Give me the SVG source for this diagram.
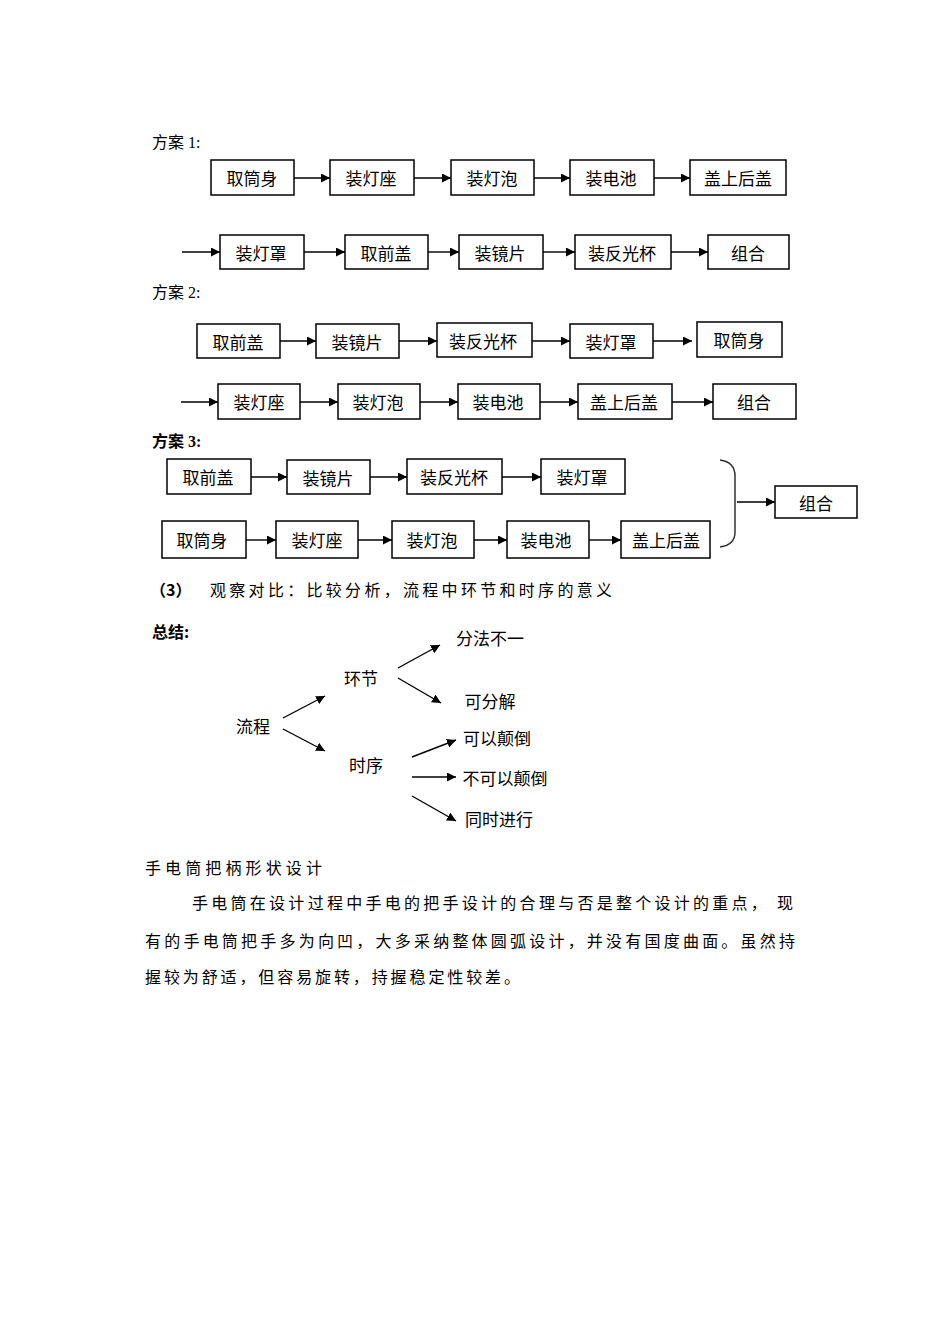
<svg xmlns="http://www.w3.org/2000/svg" width="950" height="1344" viewBox="0 0 950 1344">
<defs>
<marker id="ah" viewBox="0 0 10 10" refX="10" refY="5" markerWidth="9" markerHeight="9" markerUnits="userSpaceOnUse" orient="auto">
<path d="M0,0 L10,5 L0,10 z" fill="#000"/>
</marker>
<style>
.box{fill:#fff;stroke:#000;stroke-width:1.5}
.bt{font-family:"Noto Sans CJK SC","Liberation Sans",sans-serif;font-size:17px;fill:#000;text-anchor:middle;dominant-baseline:central}
.lbl{font-family:"Liberation Serif","Noto Sans CJK SC",serif;font-size:16px;fill:#000;dominant-baseline:central}
.body{font-family:"Noto Sans CJK SC",sans-serif;font-size:16px;fill:#000}
.cn{stroke:#000;stroke-width:1.4;fill:none;marker-end:url(#ah)}
</style>
</defs>
<rect width="950" height="1344" fill="#fff"/>

<text class="lbl" x="152" y="142">方案 1:</text>
<text class="lbl" x="152" y="292">方案 2:</text>
<text class="lbl" x="152" y="441" font-weight="bold">方案 3:</text>

<!-- Scheme 1 -->
<g id="s1r1n1"><rect class="box" x="211" y="160" width="83" height="35"/><text class="bt" x="252" y="177.5">取筒身</text></g>
<g id="s1r1n2"><rect class="box" x="330" y="160" width="84" height="35"/><text class="bt" x="371" y="177.5">装灯座</text></g>
<g id="s1r1n3"><rect class="box" x="451" y="160" width="83" height="35"/><text class="bt" x="492" y="177.5">装灯泡</text></g>
<g id="s1r1n4"><rect class="box" x="570" y="160" width="84" height="35"/><text class="bt" x="611" y="177.5">装电池</text></g>
<g id="s1r1n5"><rect class="box" x="690" y="160" width="96" height="35"/><text class="bt" x="738" y="177.5">盖上后盖</text></g>

<g id="s1r2n1"><rect class="box" x="220" y="235" width="84" height="34"/><text class="bt" x="261" y="252">装灯罩</text></g>
<g id="s1r2n2"><rect class="box" x="345" y="235" width="83" height="34"/><text class="bt" x="386" y="252">取前盖</text></g>
<g id="s1r2n3"><rect class="box" x="459" y="235" width="84" height="34"/><text class="bt" x="500" y="252">装镜片</text></g>
<g id="s1r2n4"><rect class="box" x="575" y="235" width="96" height="34"/><text class="bt" x="622" y="252">装反光杯</text></g>
<g id="s1r2n5"><rect class="box" x="708" y="235" width="81" height="34"/><text class="bt" x="748" y="252">组合</text></g>

<!-- Scheme 2 -->
<g id="s2r1n1"><rect class="box" x="197" y="324" width="83" height="34"/><text class="bt" x="238" y="341">取前盖</text></g>
<g id="s2r1n2"><rect class="box" x="316" y="324" width="83" height="34"/><text class="bt" x="357" y="341">装镜片</text></g>
<g id="s2r1n3"><rect class="box" x="437" y="323" width="95" height="34"/><text class="bt" x="483" y="340">装反光杯</text></g>
<g id="s2r1n4"><rect class="box" x="570" y="324" width="83" height="34"/><text class="bt" x="611" y="341">装灯罩</text></g>
<g id="s2r1n5"><rect class="box" x="697" y="322" width="85" height="35"/><text class="bt" x="739" y="339">取筒身</text></g>

<g id="s2r2n1"><rect class="box" x="218" y="384" width="82" height="35"/><text class="bt" x="259" y="401.5">装灯座</text></g>
<g id="s2r2n2"><rect class="box" x="338" y="384" width="82" height="35"/><text class="bt" x="378" y="401.5">装灯泡</text></g>
<g id="s2r2n3"><rect class="box" x="458" y="384" width="82" height="35"/><text class="bt" x="498" y="401.5">装电池</text></g>
<g id="s2r2n4"><rect class="box" x="578" y="384" width="94" height="35"/><text class="bt" x="624" y="401.5">盖上后盖</text></g>
<g id="s2r2n5"><rect class="box" x="713" y="384" width="83" height="35"/><text class="bt" x="754" y="401.5">组合</text></g>

<!-- Scheme 3 -->
<g id="s3r1n1"><rect class="box" x="167" y="459" width="84" height="35"/><text class="bt" x="208" y="476.5">取前盖</text></g>
<g id="s3r1n2"><rect class="box" x="287" y="460" width="83" height="34"/><text class="bt" x="328" y="477">装镜片</text></g>
<g id="s3r1n3"><rect class="box" x="407" y="459" width="95" height="35"/><text class="bt" x="454" y="476.5">装反光杯</text></g>
<g id="s3r1n4"><rect class="box" x="541" y="459" width="84" height="35"/><text class="bt" x="582" y="476.5">装灯罩</text></g>

<g id="s3r2n1"><rect class="box" x="162" y="521" width="84" height="37"/><text class="bt" x="202" y="539.5">取筒身</text></g>
<g id="s3r2n2"><rect class="box" x="276" y="521" width="82" height="37"/><text class="bt" x="317" y="539.5">装灯座</text></g>
<g id="s3r2n3"><rect class="box" x="392" y="521" width="82" height="37"/><text class="bt" x="432" y="539.5">装灯泡</text></g>
<g id="s3r2n4"><rect class="box" x="507" y="521" width="82" height="37"/><text class="bt" x="546" y="539.5">装电池</text></g>
<g id="s3r2n5"><rect class="box" x="621" y="521" width="89" height="37"/><text class="bt" x="666" y="539.5">盖上后盖</text></g>

<g id="s3join"><rect class="box" x="775" y="486" width="82" height="32"/><text class="bt" x="816" y="502">组合</text></g>

<!-- Connectors -->
<g id="connectors">
<line class="cn" x1="294" y1="178" x2="330" y2="178"/>
<line class="cn" x1="414" y1="178" x2="451" y2="178"/>
<line class="cn" x1="534" y1="178" x2="570" y2="178"/>
<line class="cn" x1="654" y1="178" x2="690" y2="178"/>
<line class="cn" x1="182" y1="252" x2="220" y2="252"/>
<line class="cn" x1="304" y1="252" x2="345" y2="252"/>
<line class="cn" x1="428" y1="252" x2="459" y2="252"/>
<line class="cn" x1="543" y1="252" x2="575" y2="252"/>
<line class="cn" x1="671" y1="252" x2="708" y2="252"/>

<line class="cn" x1="280" y1="341" x2="316" y2="341"/>
<line class="cn" x1="399" y1="341" x2="437" y2="341"/>
<line class="cn" x1="532" y1="341" x2="570" y2="341"/>
<line class="cn" x1="653" y1="341" x2="692" y2="341"/>
<line class="cn" x1="181" y1="402" x2="218" y2="402"/>
<line class="cn" x1="300" y1="402" x2="338" y2="402"/>
<line class="cn" x1="420" y1="402" x2="458" y2="402"/>
<line class="cn" x1="540" y1="402" x2="578" y2="402"/>
<line class="cn" x1="672" y1="402" x2="713" y2="402"/>

<line class="cn" x1="251" y1="477" x2="287" y2="477"/>
<line class="cn" x1="370" y1="477" x2="407" y2="477"/>
<line class="cn" x1="502" y1="477" x2="541" y2="477"/>
<line class="cn" x1="246" y1="540" x2="276" y2="540"/>
<line class="cn" x1="358" y1="540" x2="392" y2="540"/>
<line class="cn" x1="474" y1="540" x2="507" y2="540"/>
<line class="cn" x1="589" y1="540" x2="621" y2="540"/>
<path d="M720,460 Q735,462 735,476 L735,532 Q735,545 720,547" fill="none" stroke="#333" stroke-width="1.5"/>
<line class="cn" x1="737" y1="502" x2="775" y2="502"/>

<line class="cn" x1="283" y1="718" x2="325" y2="696"/>
<line class="cn" x1="283" y1="729" x2="325" y2="751"/>
<line class="cn" x1="398" y1="668" x2="440" y2="645"/>
<line class="cn" x1="398" y1="678" x2="441" y2="703"/>
<line class="cn" x1="412" y1="757" x2="456" y2="740"/>
<line class="cn" x1="412" y1="777" x2="456" y2="777"/>
<line class="cn" x1="412" y1="796" x2="456" y2="821"/>
</g>

<!-- observation text -->
<text class="body" x="150" y="596" font-weight="bold">（3）</text>
<text class="body" x="210" y="596" textLength="402" lengthAdjust="spacing">观察对比：比较分析，流程中环节和时序的意义</text>
<text class="body" x="152" y="638" font-weight="bold">总结:</text>

<!-- tree -->
<g id="t_liucheng"><text class="bt" x="253" y="725">流程</text></g>
<g id="t_huanjie"><text class="bt" x="361" y="677">环节</text></g>
<g id="t_shixu"><text class="bt" x="366" y="764">时序</text></g>
<g id="t_fenfa"><text class="bt" x="490" y="637">分法不一</text></g>
<g id="t_kefenjie"><text class="bt" x="490" y="700">可分解</text></g>
<g id="t_keyi"><text class="bt" x="497" y="737">可以颠倒</text></g>
<g id="t_bukeyi"><text class="bt" x="505" y="777">不可以颠倒</text></g>
<g id="t_tongshi"><text class="bt" x="499" y="818">同时进行</text></g>

<!-- paragraph -->
<text class="body" x="145" y="874" textLength="177" lengthAdjust="spacing">手电筒把柄形状设计</text>
<text class="body" x="192" y="909" textLength="601" lengthAdjust="spacing">手电筒在设计过程中手电的把手设计的合理与否是整个设计的重点， 现</text>
<text class="body" x="145" y="947" textLength="650" lengthAdjust="spacing">有的手电筒把手多为向凹，大多采纳整体圆弧设计，并没有国度曲面。虽然持</text>
<text class="body" x="145" y="983" textLength="375" lengthAdjust="spacing">握较为舒适，但容易旋转，持握稳定性较差。</text>
</svg>
